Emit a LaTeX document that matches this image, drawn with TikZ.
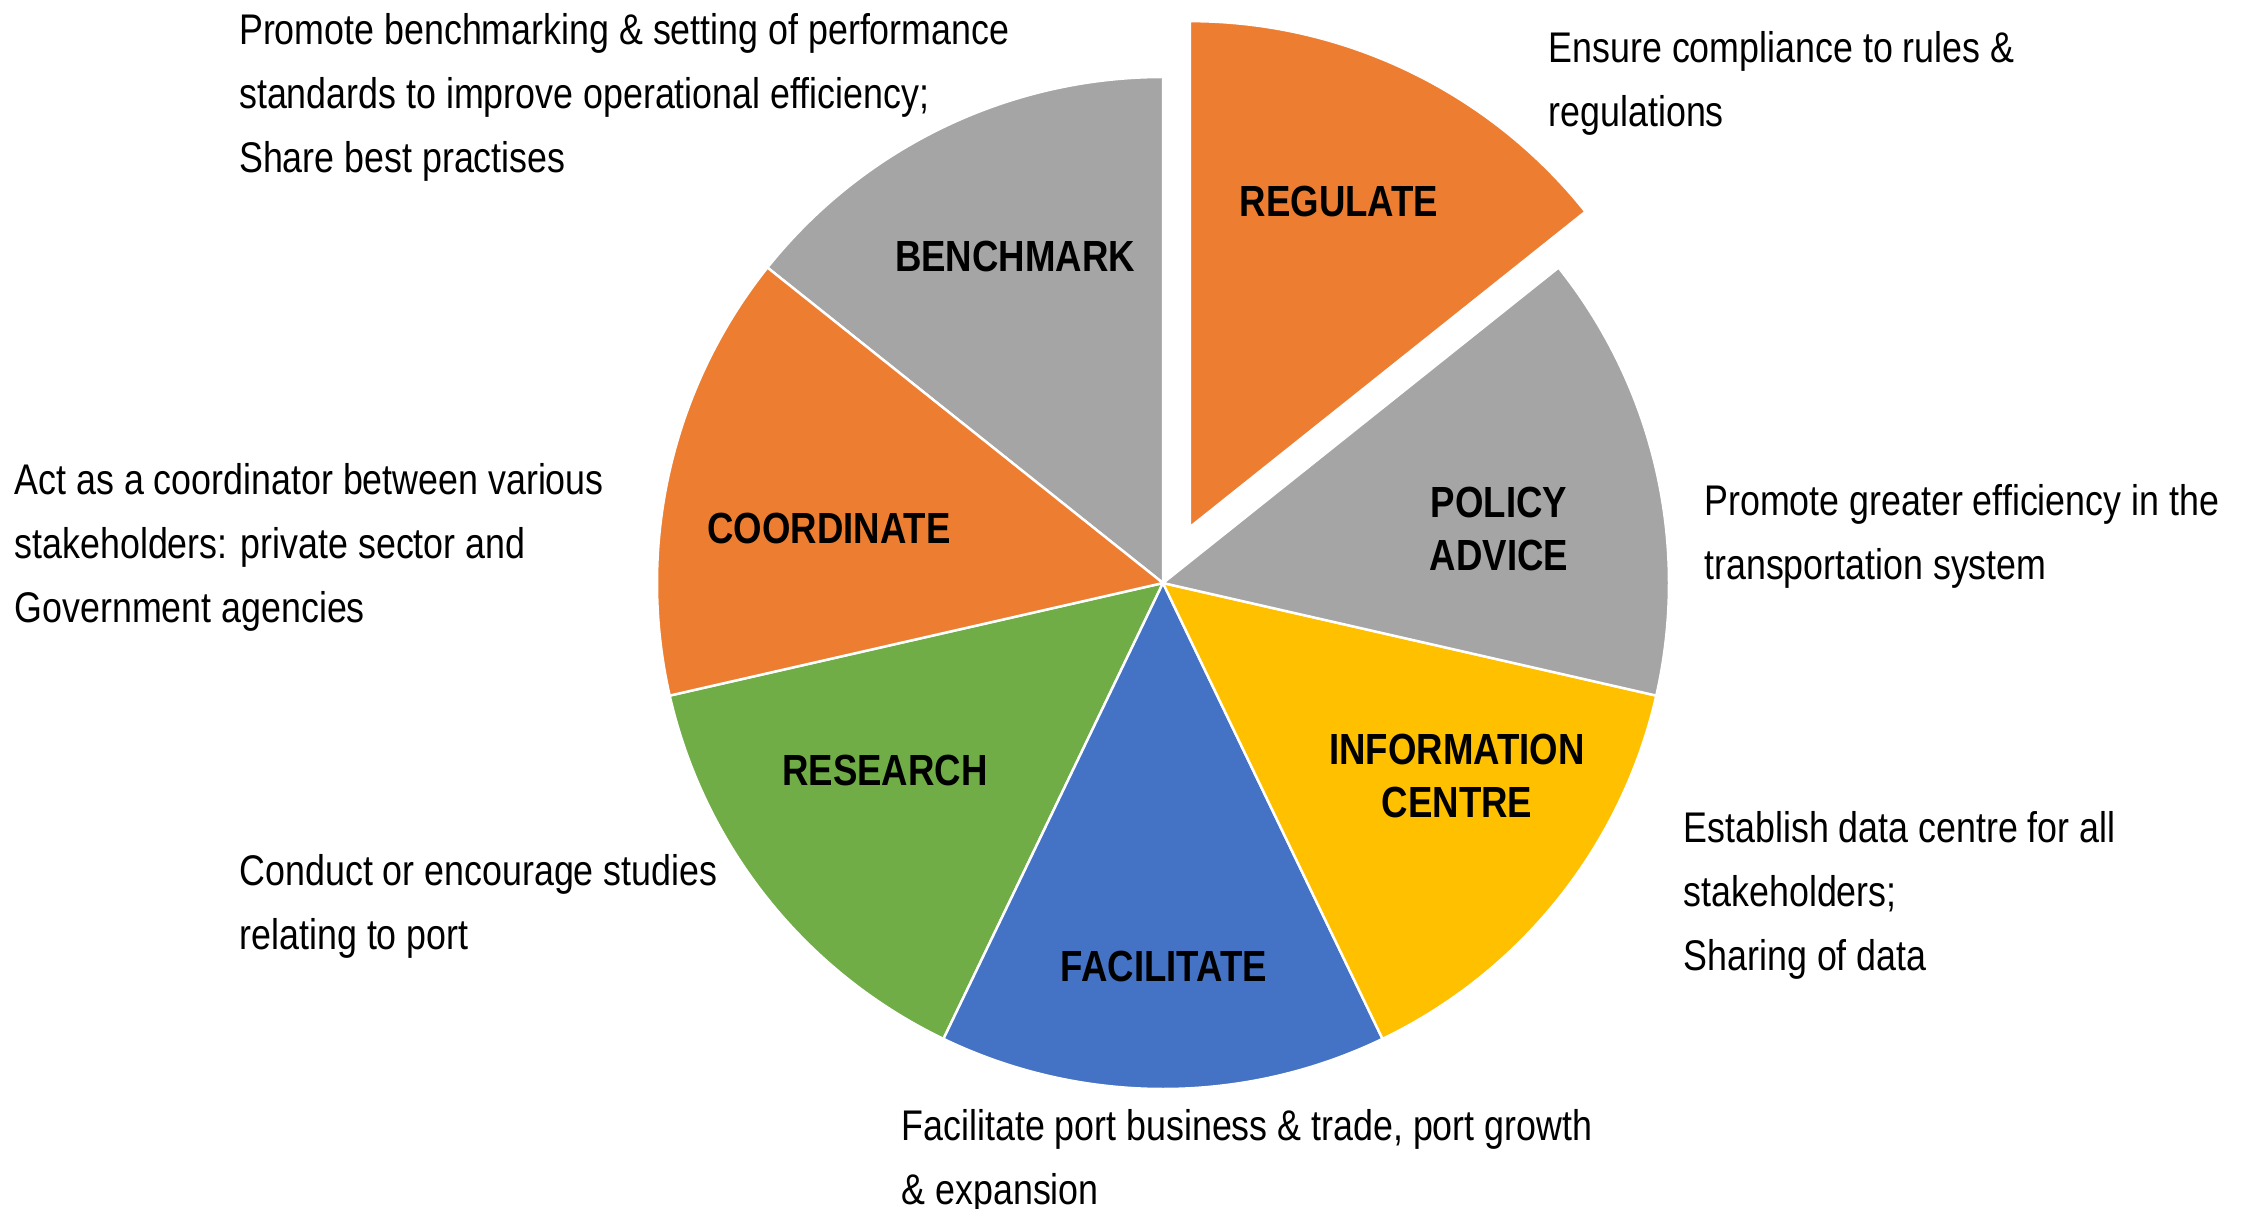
\documentclass[tikz,border=0pt]{standalone}
\usepackage{fontspec}
\setmainfont{Liberation Sans}[FakeStretch=0.835]
\newfontfamily\tagfont{Liberation Sans}[FakeStretch=0.84,UprightFont={* Bold}]
\usepackage{tikz}
\usetikzlibrary{positioning}
\definecolor{porange}{HTML}{ED7D31}
\definecolor{pgrey}{HTML}{A5A5A5}
\definecolor{pyellow}{HTML}{FFC000}
\definecolor{pblue}{HTML}{4472C4}
\definecolor{pgreen}{HTML}{70AD47}
\newcommand{\desctext}{\fontsize{12.2}{18.2}\selectfont}
\newcommand{\tagtext}{\tagfont\fontsize{12.4}{15.2}\selectfont}

\begin{document}
\begin{tikzpicture}[slice/.style={draw=white,line width=0.7pt},
		desc/.style={anchor=base west,align=left,inner sep=0pt,font=\desctext},
		tag/.style={align=center,inner sep=0pt,font=\tagtext}]
		\useasboundingbox (-11.63,-6.25) rectangle (10.83,5.83);
		% slices of the pie
		\fill[pgreen,slice] (0,0) -- (-167.143:5.06) arc[start angle=-167.143, end angle=-115.714, radius=5.06] -- cycle;
		\fill[pblue,slice] (0,0) -- (-115.714:5.06) arc[start angle=-115.714, end angle=-64.286, radius=5.06] -- cycle;
		\fill[pyellow,slice] (0,0) -- (-64.286:5.06) arc[start angle=-64.286, end angle=-12.857, radius=5.06] -- cycle;
		\fill[pgrey,slice] (0,0) -- (-12.857:5.06) arc[start angle=-12.857, end angle=38.571, radius=5.06] -- cycle;
		\fill[porange,slice,shift={(64.286:0.62)}] (0,0) -- (38.571:5.06) arc[start angle=38.571, end angle=90, radius=5.06] -- cycle;
		\fill[pgrey,slice] (0,0) -- (90:5.06) arc[start angle=90, end angle=141.429, radius=5.06] -- cycle;
		\fill[porange,slice] (0,0) -- (141.429:5.06) arc[start angle=141.429, end angle=192.857, radius=5.06] -- cycle;
		% names in the slices
		\node[tag] (regulate) at (1.76,3.815) {REGULATE};
		\node[tag] (policy) at (3.36,0.54) {POLICY\\ADVICE};
		\node[tag] (info) at (2.94,-1.93) {INFORMATION\\CENTRE};
		\node[tag] (facilitate) at (0.01,-3.83) {FACILITATE};
		\node[tag] (research) at (-2.78,-1.87) {RESEARCH};
		\node[tag] (coordinate) at (-3.34,0.55) {COORDINATE};
		\node[tag] (benchmark) at (-1.48,3.27) {BENCHMARK};
		% descriptions (anchored on the last line)
		\node[desc] (regulatetxt) at (3.85,4.57) {Ensure compliance to rules \&\\regulations};
		\node[desc] (policytxt) at (5.406,0.04) {Promote greater efficiency in the\\transportation system};
		\node[desc] (infotxt) at (5.20,-3.87) {Establish data centre for all\\stakeholders;\\Sharing of data};
		\node[desc] (facilitatetxt) at (-2.62,-6.21) {Facilitate port business \& trade, port growth\\\& expansion};
		\node[desc] (researchtxt) at (-9.24,-3.66) {Conduct or encourage studies\\relating to port};
		\node[desc] (coordinatetxt) at (-11.49,-0.396) {Act as a coordinator between various\\stakeholders: private sector and\\Government agencies};
		\node[desc] (benchmarktxt) at (-9.245,4.104) {Promote benchmarking \& setting of performance\\standards to improve operational efficiency;\\Share best practises};
	\end{tikzpicture}
\end{document}
